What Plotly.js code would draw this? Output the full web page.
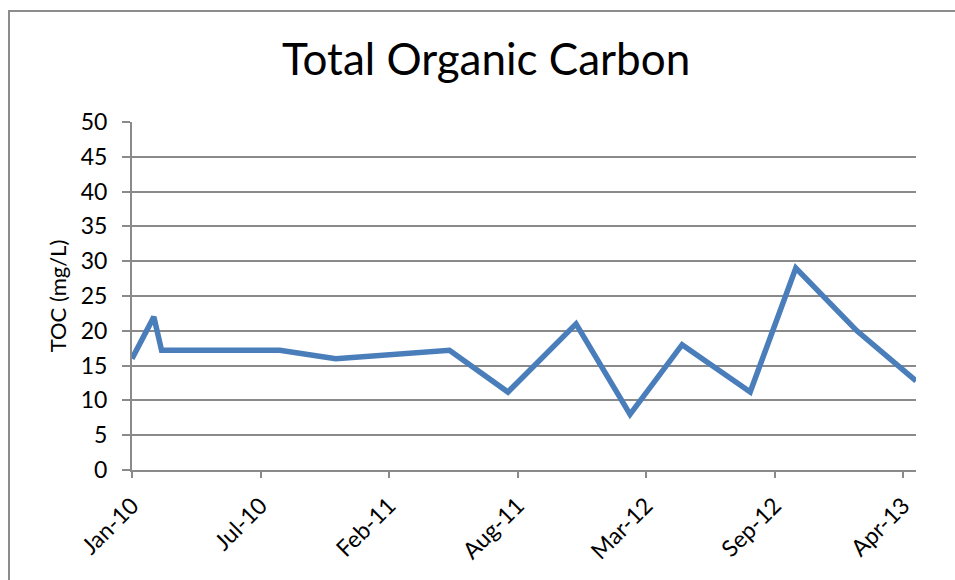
<!DOCTYPE html>
<html>
<head>
<meta charset="utf-8">
<script src="https://cdn.plot.ly/plotly-3.0.1.min.js"></script>
<style>
  html, body { margin: 0; padding: 0; background: #ffffff; overflow: hidden; }
  #wrap { position: relative; width: 955px; height: 580px; }
  #chart { position: absolute; left: 0; top: 0; width: 955px; height: 580px; }
  #frame { position: absolute; left: 8px; top: 10px; width: 980px; height: 620px;
           border: 2px solid #8c8c8c; pointer-events: none; box-sizing: border-box; }
</style>
</head>
<body>
<div id="wrap">
  <div id="chart"></div>
  <div id="frame"></div>
</div>
<script>
// ---- data ----
const sampleDates = ['2010-01-01','2010-02-04','2010-02-16','2010-08-19','2010-11-14',
                     '2011-05-10','2011-08-09','2011-11-23','2012-02-15','2012-05-06',
                     '2012-08-20','2012-10-30','2013-02-02','2013-05-05'];
const tocValues   = [16, 22, 17.2, 17.2, 16, 17.2, 11.2, 21, 8, 18, 11.2, 29, 20, 12.8];

const tickDates  = ['2010-01-01','2010-07-20','2011-02-05','2011-08-24','2012-03-11','2012-09-27','2013-04-15'];
const tickLabels = ['Jan-10','Jul-10','Feb-11','Aug-11','Mar-12','Sep-12','Apr-13'];
const xRange     = ['2010-01-01','2013-05-05'];

const yTicks = [0,5,10,15,20,25,30,35,40,45,50];

const FONT = 'Lato, "Open Sans", sans-serif';
const GRID = '#8a8a8a';

const trace = {
  type: 'scatter',
  mode: 'lines',
  x: sampleDates,
  y: tocValues,
  line: { color: '#4a7ebb', width: 5.5 },
  hoverinfo: 'x+y',
  showlegend: false
};

const layout = {
  width: 955,
  height: 580,
  margin: { l: 132, r: 39, t: 122, b: 110, pad: 0 },
  paper_bgcolor: '#ffffff',
  plot_bgcolor: '#ffffff',
  font: { family: FONT, color: '#000000' },
  title: {
    text: 'Total Organic Carbon',
    font: { family: FONT, size: 44, color: '#000000' },
    xref: 'container', x: 0.509, xanchor: 'center',
    yref: 'container', y: 0.897, yanchor: 'middle'
  },
  xaxis: {
    type: 'date',
    range: xRange,
    tickmode: 'array',
    tickvals: tickDates,
    ticktext: tickLabels,
    tickangle: -45,
    tickfont: { family: FONT, size: 23, color: '#000000' },
    ticks: 'outside',
    ticklen: 6,
    tickwidth: 2,
    tickcolor: GRID,
    ticklabelstandoff: 5,
    showgrid: false,
    showline: true,
    linecolor: GRID,
    linewidth: 2,
    zeroline: false,
    fixedrange: true
  },
  yaxis: {
    range: [0, 50],
    tickmode: 'array',
    tickvals: yTicks,
    ticktext: yTicks.map(String),
    tickfont: { family: FONT, size: 23, color: '#000000' },
    ticks: 'outside',
    ticklen: 8,
    tickwidth: 2,
    tickcolor: GRID,
    ticklabelstandoff: 10,
    showgrid: true,
    gridcolor: GRID,
    gridwidth: 2,
    showline: true,
    linecolor: GRID,
    linewidth: 2,
    zeroline: false,
    fixedrange: true,
    title: {
      text: 'TOC (mg/L)',
      font: { family: FONT, size: 22, color: '#000000' },
      standoff: 8
    }
  }
};

Plotly.newPlot('chart', [trace], layout, { displayModeBar: false, staticPlot: false });
</script>
</body>
</html>
